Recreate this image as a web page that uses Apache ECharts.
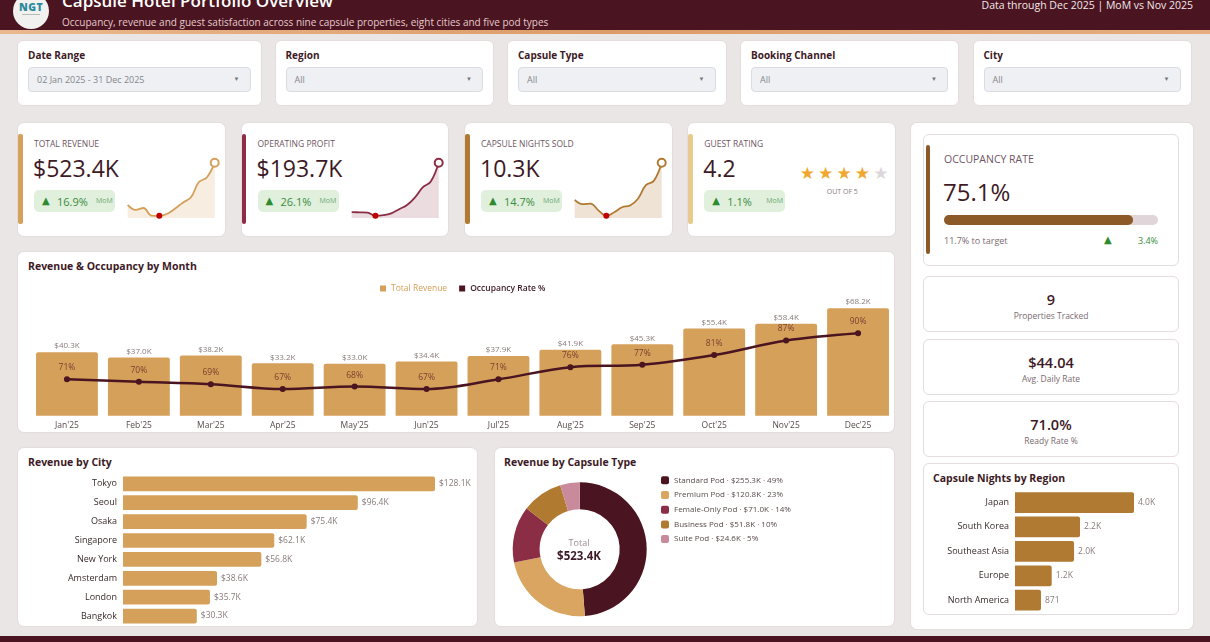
<!DOCTYPE html>
<html>
<head>
<meta charset="utf-8">
<title>Capsule Hotel Portfolio Overview</title>
<script src="https://cdn.jsdelivr.net/npm/echarts@6.0.0/dist/echarts.min.js"></script>
<style>
  * { box-sizing: border-box; margin: 0; padding: 0; }
  html, body { width: 1210px; height: 642px; overflow: hidden; }
  body { position: relative; background: #ebe6e6; font-family: 'Open Sans', 'Noto Sans', sans-serif; color: #3d1a25; }
  .a { position: absolute; white-space: nowrap; }
  .card { position: absolute; background: #fff; border: 1px solid #e4dcdd; border-radius: 7px; }
  .sel { position: absolute; left: 10px; right: 10px; top: 26px; height: 25px; background: #eef0f3; border: 1px solid #d9dde3; border-radius: 4px; font-size: 9px; color: #85868c; line-height: 23px; padding-left: 8px; }
  .sel i { position: absolute; right: 10px; top: 0; font-style: normal; font-size: 6px; color: #777; }
  .ctitle { font-size: 10.5px; font-weight: 700; color: #3d1a25; }
  .chart { position: absolute; }
</style>
</head>
<body>
<!-- header -->
<div class="a" style="left:0;top:0;width:1210px;height:30px;background:#4a1420"></div>
<div class="a" style="left:0;top:30px;width:1210px;height:3.5px;background:linear-gradient(90deg,#eab88e,#dc9c68 50%,#e6ad80)"></div>
<div class="a" style="left:13px;top:-7px;width:36px;height:36px;border-radius:50%;background:#f1f1ef"></div>
<div class="a" style="left:13px;top:1px;width:36px;text-align:center;font-size:10.5px;line-height:12px;font-weight:800;color:#2a8a9c;letter-spacing:0.5px">NGT</div>
<div class="a" style="left:22px;top:14px;width:18px;height:1px;background:#b9b9b9"></div>
<div class="a" style="left:62px;top:-8.6px;font-size:17px;line-height:20px;font-weight:600;color:#fff">Capsule Hotel Portfolio Overview</div>
<div class="a" style="left:62px;top:14.5px;font-size:10px;line-height:14px;color:#e7cacd">Occupancy, revenue and guest satisfaction across nine capsule properties, eight cities and five pod types</div>
<div class="a" style="right:17px;top:-2px;font-size:10.5px;line-height:14px;color:#f2e8ea">Data through Dec 2025 | MoM vs Nov 2025</div>

<div id="filters"></div>
<div id="kpis"></div>

<!-- right panel -->
<div class="card" style="left:910px;top:122px;width:284px;height:508px"></div>
<div class="card" id="occCard" style="left:923px;top:134px;width:256px;height:132px;border-radius:6px">
  <div class="a" style="left:1.5px;top:10px;width:4px;height:109px;border-radius:2px;background:#8c5a28"></div>
  <div class="a" style="left:20px;top:17px;font-size:10.5px;line-height:14px;color:#6e5563">OCCUPANCY RATE</div>
  <div class="a" id="occVal" style="left:19px;top:42px;font-size:24px;line-height:30px;color:#3d1a25"></div>
  <div class="chart" id="occBar" style="left:20px;top:80px;width:214px;height:10px"></div>
  <div class="a" id="occGap" style="left:20px;top:99px;font-size:9px;line-height:13px;color:#7a6a70"></div>
  <div class="a" style="left:180px;top:98px;font-size:10px;line-height:13px;color:#2e8b2e;font-family:'DejaVu Sans'">▲</div>
  <div class="a" id="occMoM" style="right:20px;top:99px;font-size:9px;line-height:13px;color:#3a8c3c"></div>
</div>
<div id="mini"></div>
<div class="card" style="left:923px;top:463px;width:256px;height:152px;border-radius:6px">
  <div class="a ctitle" style="left:9px;top:7px;line-height:14px">Capsule Nights by Region</div>
  <div class="chart" id="regionChart" style="left:0;top:0;width:254px;height:150px"></div>
</div>

<!-- combo -->
<div class="card" style="left:17px;top:251px;width:878px;height:182px">
  <div class="a ctitle" style="left:10px;top:7px;line-height:14px">Revenue &amp; Occupancy by Month</div>
  <div class="chart" id="comboChart" style="left:0;top:0;width:876px;height:180px"></div>
</div>

<!-- city -->
<div class="card" style="left:17px;top:447px;width:461px;height:180px">
  <div class="a ctitle" style="left:10px;top:7px;line-height:14px">Revenue by City</div>
  <div class="chart" id="cityChart" style="left:0;top:0;width:459px;height:178px"></div>
</div>

<!-- pod type -->
<div class="card" style="left:494px;top:447px;width:401px;height:180px">
  <div class="a ctitle" style="left:9px;top:7px;line-height:14px">Revenue by Capsule Type</div>
  <div class="chart" id="podChart" style="left:0;top:0;width:399px;height:178px"></div>
  <div class="a" style="left:44px;width:80px;text-align:center;top:89px;font-size:9px;line-height:12px;color:#9a8a8e">Total</div>
  <div class="a" id="podTotal" style="left:44px;width:80px;text-align:center;top:100.5px;font-size:11.5px;line-height:14px;font-weight:700;color:#3d1a25"></div>
</div>

<div class="a" style="left:0;top:636px;width:1210px;height:6px;background:#4a1420"></div>

<script>
// ---- data ----
const months = ["Jan'25", "Feb'25", "Mar'25", "Apr'25", "May'25", "Jun'25", "Jul'25", "Aug'25", "Sep'25", "Oct'25", "Nov'25", "Dec'25"];
const monthRevenue = [40.3, 37.0, 38.2, 33.2, 33.0, 34.4, 37.9, 41.9, 45.3, 55.4, 58.4, 68.2];
const monthOccupancy = [71, 70, 69, 67, 68, 67, 71, 76, 77, 81, 87, 90];
const monthProfit = [13.0, 12.9, 12.8, 11.8, 12.0, 12.6, 13.9, 15.2, 17.6, 20.8, 22.6, 28.5];
const monthNights = [850, 815, 820, 765, 720, 750, 790, 805, 860, 970, 1005, 1153];

const cities = ['Tokyo', 'Seoul', 'Osaka', 'Singapore', 'New York', 'Amsterdam', 'London', 'Bangkok'];
const cityRevenue = [128.1, 96.4, 75.4, 62.1, 56.8, 38.6, 35.7, 30.3];

const podTypes = ['Standard Pod', 'Premium Pod', 'Female-Only Pod', 'Business Pod', 'Suite Pod'];
const podRevenue = [255.3, 120.8, 71.0, 51.8, 24.6];

const regions = ['Japan', 'South Korea', 'Southeast Asia', 'Europe', 'North America'];
const regionNights = [3990, 2180, 1980, 1230, 871];

const filterNames = ['Date Range', 'Region', 'Capsule Type', 'Booking Channel', 'City'];
const filterValues = ['02 Jan 2025 - 31 Dec 2025', 'All', 'All', 'All', 'All'];

const kpiNames = ['TOTAL REVENUE', 'OPERATING PROFIT', 'CAPSULE NIGHTS SOLD', 'GUEST RATING'];
const kpiValues = ['$523.4K', '$193.7K', '10.3K', '4.2'];
const kpiMoM = ['16.9%', '26.1%', '14.7%', '1.1%'];
const guestRating = 4.2;

const occupancyRate = 75.1;
const occupancyToTarget = 11.7;
const occupancyMoM = '3.4%';
const miniNames = ['Properties Tracked', 'Avg. Daily Rate', 'Ready Rate %'];
const miniValues = ['9', '$44.04', '71.0%'];

// ---- layout helpers ----
const FONT = "'Open Sans', 'Noto Sans', sans-serif";
function el(parent, cls, css, html) {
  const d = document.createElement('div');
  if (cls) d.className = cls;
  d.style.cssText = css;
  if (html !== undefined) d.innerHTML = html;
  parent.appendChild(d);
  return d;
}

// filters
const filterX = [17, 274.5, 507, 740, 972.5];
const filterW = [244.5, 219.5, 219.5, 219, 219];
const fw = document.getElementById('filters');
filterNames.forEach((n, i) => {
  const c = el(fw, 'card', `left:${filterX[i]}px;top:40px;width:${filterW[i]}px;height:66px;border-radius:6px`);
  el(c, 'a', 'left:10px;top:7px;font-size:10px;line-height:14px;font-weight:700;color:#3d1a25', n);
  el(c, 'sel', '', filterValues[i] + '<i>▼</i>');
});

// kpi cards
const kpiX = [17, 240.5, 464, 687.3];
const kpiAccent = ['#D4A05A', '#8B2E45', '#B07A33', '#E8C98E'];
const sparkColor = ['#D4A05A', '#8B2E45', '#B07A33'];
const sparkFill = ['rgba(212,160,90,0.27)', 'rgba(139,46,69,0.24)', 'rgba(176,122,51,0.3)'];
const sparkData = [monthRevenue, monthProfit, monthNights];
const kw = document.getElementById('kpis');
kpiNames.forEach((n, i) => {
  const c = el(kw, 'card', `left:${kpiX[i]}px;top:122px;width:208.5px;height:115px`);
  el(c, 'a', `left:0;top:11px;width:4.5px;height:90px;border-radius:2px;background:${kpiAccent[i]}`);
  el(c, 'a', 'left:16px;top:14px;font-size:8.5px;line-height:13px;color:#6e5563', n);
  el(c, 'a', 'left:15px;top:30px;font-size:23px;line-height:30px;color:#3d1a25', kpiValues[i]);
  const b = el(c, 'a', 'left:16px;top:67px;width:81px;height:22px;border-radius:5px;background:#e0f0dd');
  el(b, 'a', "left:8px;top:4px;font-size:10px;line-height:13px;color:#2e8b2e;font-family:'DejaVu Sans'", '▲');
  el(b, 'a', 'left:23px;top:3.5px;font-size:11px;line-height:15px;color:#3a8c3c', kpiMoM[i]);
  el(b, 'a', 'left:62px;top:6px;font-size:7px;line-height:10px;color:#6fa872', 'MoM');
  if (i < 3) {
    el(c, 'chart', 'left:104px;top:32px;width:98px;height:66px').id = 'spark' + i;
  } else {
    const full = Math.floor(guestRating);
    for (let s = 0; s < 5; s++) {
      el(c, 'a', `left:${111 + s * 18.4}px;top:40px;width:16px;text-align:center;font-size:17px;line-height:20px;font-family:'DejaVu Sans';color:${s < full ? '#F2A72E' : '#dcd7d9'}`, '★');
    }
    el(c, 'a', 'left:124px;width:60px;text-align:center;top:64px;font-size:7px;line-height:10px;color:#8a7a80', 'OUT OF 5');
  }
});

// occupancy + mini cards
document.getElementById('occVal').textContent = occupancyRate.toFixed(1) + '%';
document.getElementById('occGap').textContent = occupancyToTarget.toFixed(1) + '% to target';
document.getElementById('occMoM').textContent = occupancyMoM;
const miniTop = [276, 338.5, 401];
const mw = document.getElementById('mini');
miniNames.forEach((n, i) => {
  const c = el(mw, 'card', `left:923px;top:${miniTop[i]}px;width:256px;height:56px;border-radius:6px`);
  el(c, 'a', 'left:0;width:254px;text-align:center;top:13px;font-size:14.5px;line-height:20px;font-weight:600;color:#3d1a25', miniValues[i]);
  el(c, 'a', 'left:0;width:254px;text-align:center;top:33px;font-size:8.5px;line-height:12px;color:#7a6a70', n);
});
document.getElementById('podTotal').textContent = kpiValues[0];

// ---- charts ----
function sparkOption(data, color, fill) {
  const lo = Math.min(...data), hi = Math.max(...data);
  const minIdx = data.indexOf(lo);
  const last = data.length - 1;
  const pts = data.map((v, i) => {
    if (i === minIdx) return { value: v, itemStyle: { color: '#c00000', borderWidth: 0 } };
    if (i === last) return { value: v, itemStyle: { color: '#fff', borderColor: color, borderWidth: 2 } };
    return v;
  });
  return {
    animation: false,
    grid: { left: 5.7, right: 5.3, top: 7.7, bottom: 3 },
    xAxis: { type: 'category', show: false, boundaryGap: false, data: months },
    yAxis: { type: 'value', show: false, min: lo - (hi - lo) * 0.04, max: hi },
    series: [{
      type: 'line', data: pts, smooth: 0.4, symbol: 'circle', showSymbol: true, showAllSymbol: true, silent: true,
      symbolSize: (val, p) => p.dataIndex === minIdx ? 6 : (p.dataIndex === last ? 8 : 0),
      lineStyle: { color: color, width: 1.8 }, itemStyle: { color: color },
      areaStyle: { color: fill, origin: 'start' }
    }]
  };
}
sparkData.forEach((d, i) => {
  echarts.init(document.getElementById('spark' + i)).setOption(sparkOption(d, sparkColor[i], sparkFill[i]));
});

echarts.init(document.getElementById('occBar')).setOption({
  animation: false,
  grid: { left: 0, right: 0, top: 0, bottom: 0 },
  xAxis: { type: 'value', show: false, min: 0, max: 85 },
  yAxis: { type: 'category', show: false, data: ['Occupancy'] },
  series: [{
    type: 'bar', data: [occupancyRate], barWidth: 10, showBackground: true, silent: true,
    backgroundStyle: { color: '#e0d6d9', borderRadius: 5 },
    itemStyle: { color: '#8c5a28', borderRadius: 5 }
  }]
});

echarts.init(document.getElementById('comboChart')).setOption({
  animation: false,
  textStyle: { fontFamily: FONT },
  legend: {
    left: 362, top: 32, padding: 0, itemWidth: 6, itemHeight: 6, itemGap: 12, icon: 'rect',
    textStyle: { fontSize: 8.5, fontFamily: FONT },
    data: [
      { name: 'Total Revenue', textStyle: { color: '#D4A05A' } },
      { name: 'Occupancy Rate %', textStyle: { color: '#3d1a25', fontWeight: 600 } }
    ]
  },
  grid: { left: 13, top: 37.6, bottom: 16.3, width: 866 },
  xAxis: {
    type: 'category', data: months,
    axisLine: { show: false }, axisTick: { show: false },
    axisLabel: { color: '#5a4a4a', fontSize: 8.5, margin: 5 }
  },
  yAxis: [
    { type: 'value', show: false, min: 0, max: 80, splitLine: { show: false } },
    { type: 'value', show: false, min: 56, max: 108, splitLine: { show: false } }
  ],
  series: [
    {
      name: 'Total Revenue', type: 'bar', data: monthRevenue, barCategoryGap: '14%',
      itemStyle: { color: '#D4A05A', borderRadius: [2, 2, 0, 0] },
      label: { show: true, position: 'top', distance: 2, fontSize: 8, color: '#8a7a7a', formatter: p => '$' + p.value.toFixed(1) + 'K' }
    },
    {
      name: 'Occupancy Rate %', type: 'line', yAxisIndex: 1, data: monthOccupancy, smooth: 0.35,
      symbol: 'circle', symbolSize: 6,
      lineStyle: { color: '#4a1420', width: 2.5 }, itemStyle: { color: '#4a1420' },
      label: { show: true, position: 'top', distance: 4, fontSize: 8.5, color: '#7a4030', formatter: '{c}%' }
    }
  ]
});

echarts.init(document.getElementById('cityChart')).setOption({
  animation: false,
  textStyle: { fontFamily: FONT },
  grid: { left: 105, right: 42, top: 26.4, bottom: 0.5 },
  xAxis: { type: 'value', show: false, min: 0, max: 'dataMax', splitLine: { show: false } },
  yAxis: {
    type: 'category', data: cities, inverse: true,
    axisLine: { show: false }, axisTick: { show: false },
    axisLabel: { color: '#3a2a2a', fontSize: 9, margin: 6 }
  },
  series: [{
    type: 'bar', data: cityRevenue, barCategoryGap: '22%',
    itemStyle: { color: '#D4A05A', borderRadius: [0, 2, 2, 0] },
    label: { show: true, position: 'right', distance: 4, fontSize: 8.5, color: '#8a7a7a', formatter: p => '$' + p.value.toFixed(1) + 'K' }
  }]
});

echarts.init(document.getElementById('regionChart')).setOption({
  animation: false,
  textStyle: { fontFamily: FONT },
  grid: { left: 91, right: 44, top: 26.3, bottom: 1.6 },
  xAxis: { type: 'value', show: false, min: 0, max: 'dataMax', splitLine: { show: false } },
  yAxis: {
    type: 'category', data: regions, inverse: true,
    axisLine: { show: false }, axisTick: { show: false },
    axisLabel: { color: '#3a2a2a', fontSize: 9, margin: 6 }
  },
  series: [{
    type: 'bar', data: regionNights, barCategoryGap: '15%',
    itemStyle: { color: '#B07A33', borderRadius: [0, 2, 2, 0] },
    label: {
      show: true, position: 'right', distance: 4, fontSize: 8.5, color: '#8a7a7a',
      formatter: p => p.value >= 1000 ? (p.value / 1000).toFixed(1) + 'K' : String(p.value)
    }
  }]
});

const podColors = ['#4A1420', '#D9A560', '#8B2E45', '#B07A30', '#C98A9C'];
const podSum = podRevenue.reduce((a, b) => a + b, 0);
echarts.init(document.getElementById('podChart')).setOption({
  animation: false,
  textStyle: { fontFamily: FONT },
  legend: {
    orient: 'vertical', left: 166, top: 27.3, padding: 0, itemWidth: 8, itemHeight: 8, itemGap: 4.7, icon: 'roundRect',
    textStyle: { fontSize: 8, color: '#5a4a4a', lineHeight: 10, fontFamily: FONT },
    formatter: name => {
      const i = podTypes.indexOf(name);
      return name + ' · $' + podRevenue[i].toFixed(1) + 'K · ' + Math.round(podRevenue[i] / podSum * 100) + '%';
    }
  },
  series: [{
    type: 'pie', center: [84.7, 101.3], radius: [40, 67], startAngle: 90, silent: true,
    label: { show: false }, labelLine: { show: false },
    data: podTypes.map((n, i) => ({ name: n, value: podRevenue[i], itemStyle: { color: podColors[i] } }))
  }]
});
</script>
</body>
</html>
